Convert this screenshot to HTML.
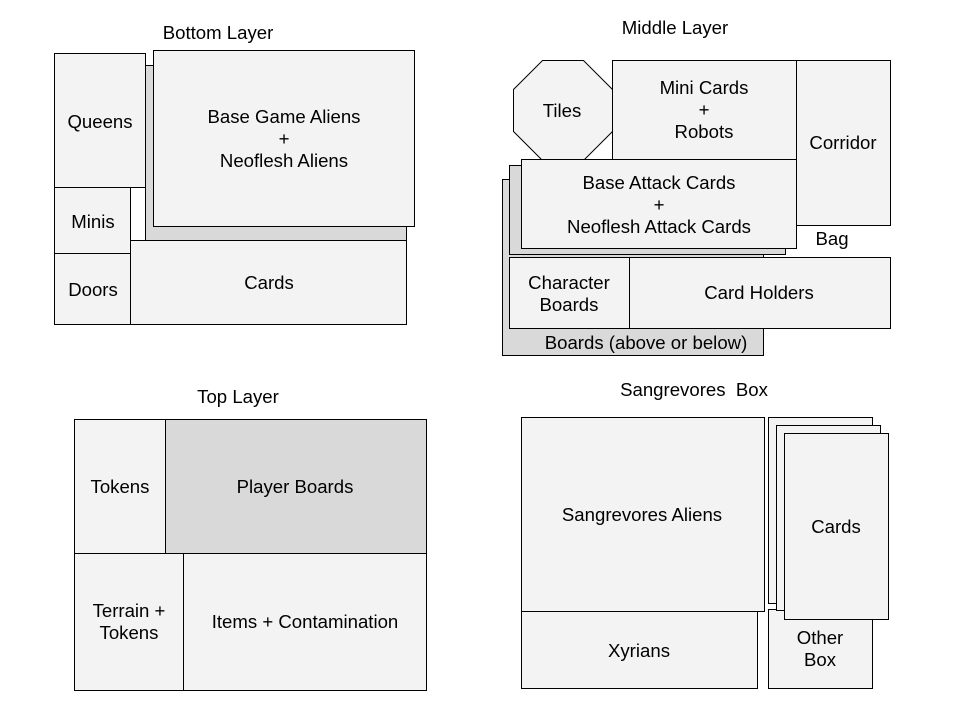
<!DOCTYPE html>
<html><head><meta charset="utf-8"><style>
html,body{margin:0;padding:0;background:#fff;}
svg{display:block;}
text{font-family:"Liberation Sans",Arial,sans-serif;font-size:18.6px;fill:#000;text-anchor:middle;}
rect,polygon{stroke:#000;stroke-width:1;}
.l{fill:#f3f3f3;} .d{fill:#d9d9d9;}
</style></head><body>
<svg width="960" height="720" viewBox="0 0 960 720" xmlns="http://www.w3.org/2000/svg">
<text x="218" y="39">Bottom Layer</text>
<rect class="d" x="145.5" y="65.5" width="261" height="175"/>
<rect class="l" x="54.5" y="53.5" width="91" height="134"/>
<rect class="l" x="153.5" y="50.5" width="261" height="176"/>
<rect class="l" x="54.5" y="187.5" width="76" height="66"/>
<rect class="l" x="54.5" y="253.5" width="76" height="71"/>
<rect class="l" x="130.5" y="240.5" width="276" height="84"/>
<text x="100" y="128">Queens</text>
<text x="284" y="123">Base Game Aliens</text>
<text x="284" y="145">+</text>
<text x="284" y="167">Neoflesh Aliens</text>
<text x="93" y="228">Minis</text>
<text x="93" y="296">Doors</text>
<text x="269" y="289">Cards</text>

<text x="675" y="34">Middle Layer</text>
<rect class="d" x="502.5" y="179.5" width="261" height="176"/>
<rect class="l" x="796.5" y="60.5" width="94" height="165"/>
<rect class="l" x="612.5" y="60.5" width="184" height="99"/>
<polygon class="l" points="542.5,60.5 583.5,60.5 612.5,89.5 612.5,131.5 583.5,160.5 542.5,160.5 513.5,131.5 513.5,89.5"/>
<rect class="d" x="509.5" y="165.5" width="276" height="89"/>
<rect class="l" x="521.5" y="159.5" width="275" height="89"/>
<rect class="l" x="509.5" y="257.5" width="120" height="71"/>
<rect class="l" x="629.5" y="257.5" width="261" height="71"/>
<text x="562" y="117">Tiles</text>
<text x="704" y="94">Mini Cards</text>
<text x="704" y="116">+</text>
<text x="704" y="138">Robots</text>
<text x="843" y="149">Corridor</text>
<text x="659" y="189">Base Attack Cards</text>
<text x="659" y="211">+</text>
<text x="659" y="233">Neoflesh Attack Cards</text>
<text x="832" y="245">Bag</text>
<text x="569" y="289">Character</text>
<text x="569" y="311">Boards</text>
<text x="759" y="299">Card Holders</text>
<text x="646" y="349">Boards (above or below)</text>

<text x="238" y="403">Top Layer</text>
<rect class="l" x="74.5" y="419.5" width="91" height="134"/>
<rect class="d" x="165.5" y="419.5" width="261" height="134"/>
<rect class="l" x="74.5" y="553.5" width="109" height="137"/>
<rect class="l" x="183.5" y="553.5" width="243" height="137"/>
<text x="120" y="493">Tokens</text>
<text x="295" y="493">Player Boards</text>
<text x="129" y="617">Terrain +</text>
<text x="129" y="639">Tokens</text>
<text x="305" y="628">Items + Contamination</text>

<text x="694" y="396" xml:space="preserve">Sangrevores  Box</text>
<rect class="l" x="521.5" y="417.5" width="243" height="194"/>
<rect class="l" x="521.5" y="611.5" width="236" height="77"/>
<rect class="l" x="768.5" y="609.5" width="104" height="79"/>
<rect class="l" x="768.5" y="417.5" width="104" height="186"/>
<rect class="l" x="776.5" y="425.5" width="104" height="185"/>
<rect class="l" x="784.5" y="433.5" width="104" height="186"/>
<text x="642" y="521">Sangrevores Aliens</text>
<text x="639" y="657">Xyrians</text>
<text x="836" y="533">Cards</text>
<text x="820" y="644">Other</text>
<text x="820" y="666">Box</text>
</svg>
</body></html>
